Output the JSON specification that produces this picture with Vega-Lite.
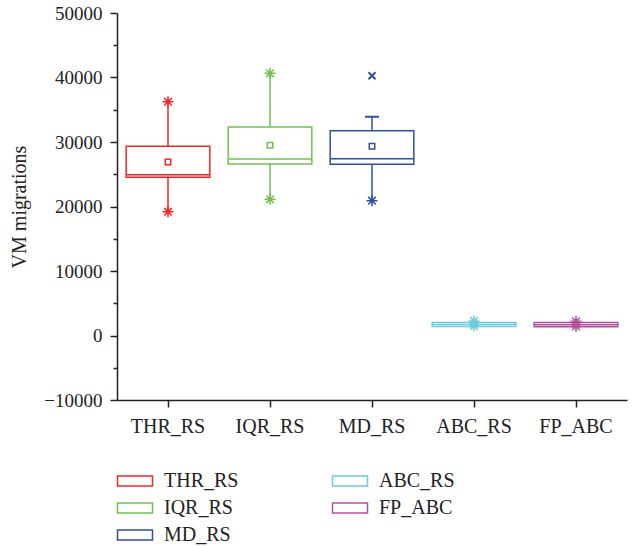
{
  "$schema": "https://vega.github.io/schema/vega-lite/v6.json",
  "width": 510,
  "height": 387,
  "autosize": "none",
  "padding": {"left": 117, "top": 13, "right": 7, "bottom": 146},
  "background": "white",
  "config": {
    "view": {"stroke": null},
    "font": "Liberation Serif",
    "axis": {"labelFont": "Liberation Serif", "titleFont": "Liberation Serif", "labelColor": "#222", "titleColor": "#222", "domainColor": "#222", "tickColor": "#222", "grid": false, "labelFontSize": 19, "titleFontSize": 20, "titleFontWeight": "normal", "domainWidth": 1.5, "tickWidth": 1.5},
    "legend": {"labelFont": "Liberation Serif", "labelFontSize": 20, "labelColor": "#222"}
  },
  "data": {"values": [
    {"cat": "THR_RS", "q1": 24530, "q3": 29330, "median": 24930, "mean": 26900, "wlo": 19190, "whi": 36250, "mn": 19190, "mx": 36250, "cap": null, "outlier": null},
    {"cat": "IQR_RS", "q1": 26590, "q3": 32330, "median": 27360, "mean": 29490, "wlo": 21120, "whi": 40650, "mn": 21120, "mx": 40650, "cap": null, "outlier": null},
    {"cat": "MD_RS", "q1": 26540, "q3": 31750, "median": 27410, "mean": 29330, "wlo": 20900, "whi": 33920, "mn": 20900, "mx": null, "cap": 33920, "outlier": 40280},
    {"cat": "ABC_RS", "q1": 1400, "q3": 2000, "median": 1700, "mean": 1700, "wlo": 1450, "whi": 2250, "mn": 1450, "mx": 2250, "cap": null, "outlier": null},
    {"cat": "FP_ABC", "q1": 1350, "q3": 2000, "median": 1650, "mean": 1700, "wlo": 1400, "whi": 2200, "mn": 1400, "mx": 2200, "cap": null, "outlier": null}
  ]},
  "encoding": {
    "x": {"field": "cat", "type": "nominal", "sort": ["THR_RS", "IQR_RS", "MD_RS", "ABC_RS", "FP_ABC"], "scale": {"paddingInner": 0, "paddingOuter": 0}, "axis": {"title": null, "labelAngle": 0, "tickSize": 7, "labelPadding": 9, "labelFontSize": 20}},
    "color": {"field": "cat", "type": "nominal",
      "scale": {"domain": ["THR_RS", "IQR_RS", "MD_RS", "ABC_RS", "FP_ABC"], "range": ["#f82424", "#72c04f", "#2f4fa6", "#6ccbdc", "#b4519f"]},
      "legend": {"title": null, "orient": "none", "legendX": 7, "legendY": 457, "columns": 2, "columnPadding": 90, "rowPadding": 6, "padding": 0,
        "symbolType": "M-1.75,-0.5h3.5v1h-3.5z", "symbolSize": 400, "symbolStrokeWidth": 1.5, "symbolFillColor": "white", "labelOffset": 18,
        "encode": {"symbols": {"update": {"fill": {"value": "white"}, "strokeWidth": {"value": 1.5}}}}}}
  },
  "layer": [
    {"mark": {"type": "rule", "strokeWidth": 1.5},
     "encoding": {"y": {"field": "wlo", "type": "quantitative", "scale": {"domain": [-10000, 50000], "nice": false}, "axis": {"orient": "left", "title": "VM migrations", "values": [-10000, 0, 10000, 20000, 30000, 40000, 50000], "tickSize": 7, "labelPadding": 8, "titlePadding": 14, "format": "d", "labelExpr": "replace(datum.label, '-', '−')"}}, "y2": {"field": "whi"}}},
    {"mark": {"type": "bar", "filled": false, "fill": "white", "strokeWidth": 1.5, "width": {"band": 0.82}},
     "encoding": {"y": {"field": "q1", "type": "quantitative", "axis": {"orient": "left", "title": null, "values": [-5000, 5000, 15000, 25000, 35000, 45000], "tickSize": 4, "labels": false, "domain": false}}, "y2": {"field": "q3"}}},
    {"mark": {"type": "bar", "filled": false, "strokeWidth": 1.5, "width": {"band": 0.82}},
     "encoding": {"y": {"field": "median", "type": "quantitative", "axis": null}, "y2": {"field": "median"}}},
    {"mark": {"type": "point", "shape": "square", "filled": false, "size": 30, "strokeWidth": 1.5, "opacity": 1},
     "encoding": {"y": {"field": "mean", "type": "quantitative", "axis": null}}},
    {"mark": {"type": "point", "shape": "M-1,0L1,0M0,-1L0,1M-0.7,-0.7L0.7,0.7M-0.7,0.7L0.7,-0.7", "filled": false, "size": 120, "strokeWidth": 1.5, "opacity": 1},
     "encoding": {"y": {"field": "mn", "type": "quantitative", "axis": null}}},
    {"mark": {"type": "point", "shape": "M-1,0L1,0M0,-1L0,1M-0.7,-0.7L0.7,0.7M-0.7,0.7L0.7,-0.7", "filled": false, "size": 120, "strokeWidth": 1.5, "opacity": 1},
     "encoding": {"y": {"field": "mx", "type": "quantitative", "axis": null}}},
    {"mark": {"type": "bar", "filled": false, "strokeWidth": 2, "width": 14},
     "encoding": {"y": {"field": "cap", "type": "quantitative", "axis": null}, "y2": {"field": "cap"}}},
    {"mark": {"type": "point", "shape": "M-0.7,-0.7L0.7,0.7M-0.7,0.7L0.7,-0.7", "filled": false, "size": 100, "strokeWidth": 2, "opacity": 1},
     "encoding": {"y": {"field": "outlier", "type": "quantitative", "axis": null}}}
  ],
  "resolve": {"scale": {"y": "shared"}, "axis": {"y": "independent"}}
}
